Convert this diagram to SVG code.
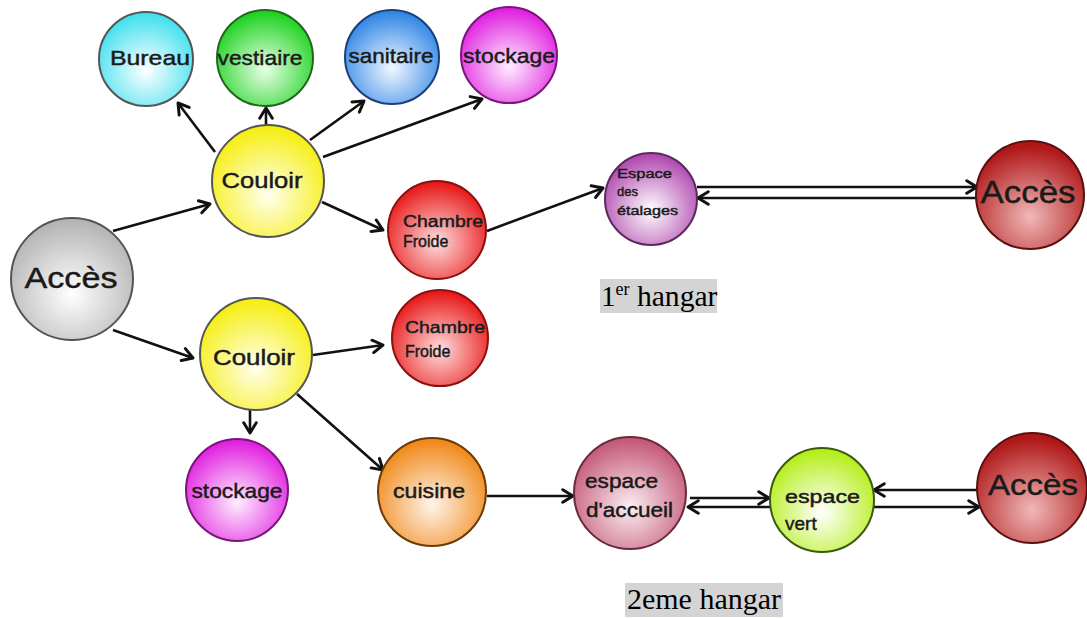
<svg xmlns="http://www.w3.org/2000/svg" width="1087" height="618" viewBox="0 0 1087 618">
<style>
.n{stroke-width:2}
.t{font-family:"Liberation Sans",Arial,sans-serif;fill:#1a1a1a;stroke:#1a1a1a;stroke-width:0.45}
.c line{stroke:#111;stroke-width:2.6;fill:none;marker-end:url(#ah)}
.h{font-family:"Liberation Serif","Times New Roman",serif;font-size:29px;fill:#000}
</style>
<defs>
<marker id="ah" markerUnits="userSpaceOnUse" markerWidth="16" markerHeight="16" refX="11" refY="7" orient="auto" viewBox="0 0 14 14">
<path d="M2,1.5 L11,7 L2,12.5" fill="none" stroke="#111" stroke-width="2.6" stroke-linecap="round" stroke-linejoin="round"/>
</marker>
<radialGradient id="gCyan" cx="0.5" cy="0.62" r="0.6"><stop offset="0" stop-color="#ffffff"/><stop offset="1" stop-color="#40e0ee"/></radialGradient>
<radialGradient id="gGreen" cx="0.5" cy="0.62" r="0.6"><stop offset="0" stop-color="#e8ffe8"/><stop offset="1" stop-color="#1ed21e"/></radialGradient>
<radialGradient id="gBlue" cx="0.5" cy="0.62" r="0.6"><stop offset="0" stop-color="#f2f8ff"/><stop offset="1" stop-color="#2f86e6"/></radialGradient>
<radialGradient id="gMag" cx="0.5" cy="0.62" r="0.6"><stop offset="0" stop-color="#ffeeff"/><stop offset="1" stop-color="#e020e0"/></radialGradient>
<radialGradient id="gYel" cx="0.5" cy="0.62" r="0.6"><stop offset="0" stop-color="#fffff0"/><stop offset="1" stop-color="#f6ee10"/></radialGradient>
<radialGradient id="gGrey" cx="0.5" cy="0.62" r="0.6"><stop offset="0" stop-color="#ffffff"/><stop offset="1" stop-color="#b4b4b4"/></radialGradient>
<radialGradient id="gRed" cx="0.5" cy="0.62" r="0.6"><stop offset="0" stop-color="#ffdede"/><stop offset="1" stop-color="#e81818"/></radialGradient>
<radialGradient id="gOra" cx="0.5" cy="0.62" r="0.6"><stop offset="0" stop-color="#fff4ea"/><stop offset="1" stop-color="#f08818"/></radialGradient>
<radialGradient id="gPink" cx="0.5" cy="0.62" r="0.6"><stop offset="0" stop-color="#fbeef2"/><stop offset="1" stop-color="#c45878"/></radialGradient>
<radialGradient id="gPur" cx="0.5" cy="0.62" r="0.6"><stop offset="0" stop-color="#ffffff"/><stop offset="1" stop-color="#b048b0"/></radialGradient>
<radialGradient id="gLime" cx="0.5" cy="0.62" r="0.6"><stop offset="0" stop-color="#ffffff"/><stop offset="1" stop-color="#b4ee18"/></radialGradient>
<radialGradient id="gDred" cx="0.5" cy="0.7" r="0.65"><stop offset="0" stop-color="#f0b8b8"/><stop offset="1" stop-color="#b01818"/></radialGradient>
</defs>

<g id="connectors" class="c">
<line x1="215" y1="152" x2="178" y2="103"/>
<line x1="266" y1="125" x2="266" y2="108"/>
<line x1="310" y1="140" x2="364" y2="101"/>
<line x1="323" y1="157" x2="482" y2="99"/>
<line x1="322" y1="202" x2="383" y2="230"/>
<line x1="113" y1="231" x2="210" y2="204"/>
<line x1="113" y1="330" x2="193" y2="358"/>
<line x1="313" y1="355" x2="383" y2="345"/>
<line x1="250" y1="410" x2="250" y2="433"/>
<line x1="297" y1="394" x2="383" y2="470"/>
<line x1="487" y1="496" x2="573" y2="496"/>
<line x1="487" y1="231" x2="603" y2="188"/>
<line x1="697" y1="187" x2="977" y2="187"/>
<line x1="977" y1="198" x2="698" y2="198"/>
<line x1="690" y1="498" x2="769" y2="498"/>
<line x1="771" y1="507" x2="688" y2="507"/>
<line x1="980" y1="490" x2="874" y2="490"/>
<line x1="874" y1="507" x2="979" y2="507"/>
</g>

<g id="bureau"><circle class="n" cx="146" cy="59" r="47" fill="url(#gCyan)" stroke="#555"/><text class="t" x="150" y="65" font-size="21" text-anchor="middle" textLength="80" lengthAdjust="spacingAndGlyphs">Bureau</text></g>
<g id="vestiaire"><circle class="n" cx="265" cy="58" r="48" fill="url(#gGreen)" stroke="#226622"/><text class="t" x="260" y="65" font-size="21" text-anchor="middle" textLength="85" lengthAdjust="spacingAndGlyphs">vestiaire</text></g>
<g id="sanitaire"><circle class="n" cx="392" cy="57" r="47" fill="url(#gBlue)" stroke="#1a3f77"/><text class="t" x="391" y="63" font-size="21" text-anchor="middle" textLength="85" lengthAdjust="spacingAndGlyphs">sanitaire</text></g>
<g id="stockage1"><circle class="n" cx="509" cy="55" r="48" fill="url(#gMag)" stroke="#7a157a"/><text class="t" x="509" y="63" font-size="21" text-anchor="middle" textLength="92" lengthAdjust="spacingAndGlyphs">stockage</text></g>
<g id="couloir1"><circle class="n" cx="268" cy="181" r="56" fill="url(#gYel)" stroke="#555"/><text class="t" x="262" y="188" font-size="22" text-anchor="middle" textLength="81" lengthAdjust="spacingAndGlyphs">Couloir</text></g>
<g id="acces1"><circle class="n" cx="72" cy="279" r="61" fill="url(#gGrey)" stroke="#555"/><text class="t" x="71" y="288" font-size="30" text-anchor="middle" textLength="93" lengthAdjust="spacingAndGlyphs">Accès</text></g>
<g id="chambre1"><circle class="n" cx="437" cy="230" r="49" fill="url(#gRed)" stroke="#8a1010"/><text class="t" x="403" y="227" font-size="16" textLength="80" lengthAdjust="spacingAndGlyphs">Chambre</text><text class="t" x="403" y="247" font-size="16">Froide</text></g>
<g id="couloir2"><circle class="n" cx="256" cy="354" r="56" fill="url(#gYel)" stroke="#555"/><text class="t" x="254" y="365" font-size="22" text-anchor="middle" textLength="82" lengthAdjust="spacingAndGlyphs">Couloir</text></g>
<g id="chambre2"><circle class="n" cx="440" cy="338" r="48" fill="url(#gRed)" stroke="#8a1010"/><text class="t" x="405" y="333" font-size="16" textLength="80" lengthAdjust="spacingAndGlyphs">Chambre</text><text class="t" x="405" y="357" font-size="16">Froide</text></g>
<g id="stockage2"><circle class="n" cx="237" cy="490" r="51" fill="url(#gMag)" stroke="#7a157a"/><text class="t" x="237" y="498" font-size="21" text-anchor="middle" textLength="91" lengthAdjust="spacingAndGlyphs">stockage</text></g>
<g id="cuisine"><circle class="n" cx="432" cy="492" r="54" fill="url(#gOra)" stroke="#6a3a08"/><text class="t" x="429" y="498" font-size="20" text-anchor="middle" textLength="72" lengthAdjust="spacingAndGlyphs">cuisine</text></g>
<g id="accueil"><circle class="n" cx="630" cy="493" r="56" fill="url(#gPink)" stroke="#6a2a3a"/><text class="t" x="585" y="488" font-size="20" textLength="73" lengthAdjust="spacingAndGlyphs">espace</text><text class="t" x="586" y="517" font-size="20" textLength="87" lengthAdjust="spacingAndGlyphs">d'accueil</text></g>
<g id="etalages"><circle class="n" cx="651" cy="199" r="46" fill="url(#gPur)" stroke="#5a2a5a"/><text class="t" x="617" y="178" font-size="13" textLength="55" lengthAdjust="spacingAndGlyphs">Espace</text><text class="t" x="617" y="196" font-size="13">des</text><text class="t" x="617" y="215" font-size="13" textLength="61" lengthAdjust="spacingAndGlyphs">étalages</text></g>
<g id="acces2"><circle class="n" cx="1030" cy="195" r="54" fill="url(#gDred)" stroke="#5a1010"/><text class="t" x="1028" y="203" font-size="31" text-anchor="middle" textLength="95" lengthAdjust="spacingAndGlyphs">Accès</text></g>
<g id="vert"><circle class="n" cx="822" cy="500" r="52" fill="url(#gLime)" stroke="#3a5a10"/><text class="t" x="785" y="503" font-size="19" textLength="75" lengthAdjust="spacingAndGlyphs">espace</text><text class="t" x="785" y="530" font-size="19">vert</text></g>
<g id="acces3"><circle class="n" cx="1032" cy="488" r="55" fill="url(#gDred)" stroke="#5a1010"/><text class="t" x="1033" y="495" font-size="30" text-anchor="middle" textLength="90" lengthAdjust="spacingAndGlyphs">Accès</text></g>

<g id="label1"><rect x="600" y="279" width="117" height="34" fill="#d4d4d4"/><text class="h" x="601" y="306">1<tspan font-size="18" dy="-11">er</tspan><tspan dy="11" textLength="88" lengthAdjust="spacingAndGlyphs"> hangar</tspan></text></g>
<g id="label2"><rect x="625" y="583" width="158" height="34" fill="#d4d4d4"/><text class="h" x="627" y="609" textLength="154" lengthAdjust="spacingAndGlyphs">2eme hangar</text></g>
</svg>
